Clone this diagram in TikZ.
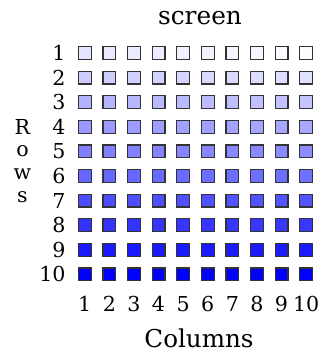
\documentclass[tikz,border=0pt]{standalone}
\usepackage{fontspec}
\setmainfont{DejaVu Serif}
\begin{document}
\begin{tikzpicture}[x=0.5pt,y=-0.5pt,
  cell/.style={draw=black!80, line width=0.6pt, minimum size=6.4pt, inner sep=0pt, outer sep=0pt},
  lab/.style={font=\fontsize{10.3}{12}\selectfont, inner sep=0pt}]
\useasboundingbox (0,0) rectangle (322,351);
\node[font=\fontsize{12.4}{15}\selectfont, anchor=base, inner sep=0pt] (title) at (200,25) {screen};
\foreach \r in {1,...,10} {
  \pgfmathsetmacro{\yy}{53+24.6*(\r-1)}
  \node[lab, anchor=east] (row\r) at (66,\yy) {\r};
  \foreach \c in {1,...,10} {
    \pgfmathsetmacro{\xx}{84.7+24.6*(\c-1)}
    \pgfmathsetmacro{\ii}{10*\r-(\c-1)*(10-\r)/9}
    \node[cell, fill=blue!\ii] (cell-\r-\c) at (\xx,\yy) {};
  }
}
\foreach \c in {1,...,10} {
  \pgfmathsetmacro{\xx}{84.7+24.6*(\c-1)}
  \node[lab] (col\c) at (\xx,304) {\c};
}
\node[font=\fontsize{12.3}{15}\selectfont, anchor=base, inner sep=0pt] (coltitle) at (199,347) {Columns};
\node[font=\fontsize{10.3}{11.4}\selectfont, align=center, inner sep=0pt] (rowtitle) at (22.5,161) {R\\o\\w\\s};
\end{tikzpicture}
\end{document}
